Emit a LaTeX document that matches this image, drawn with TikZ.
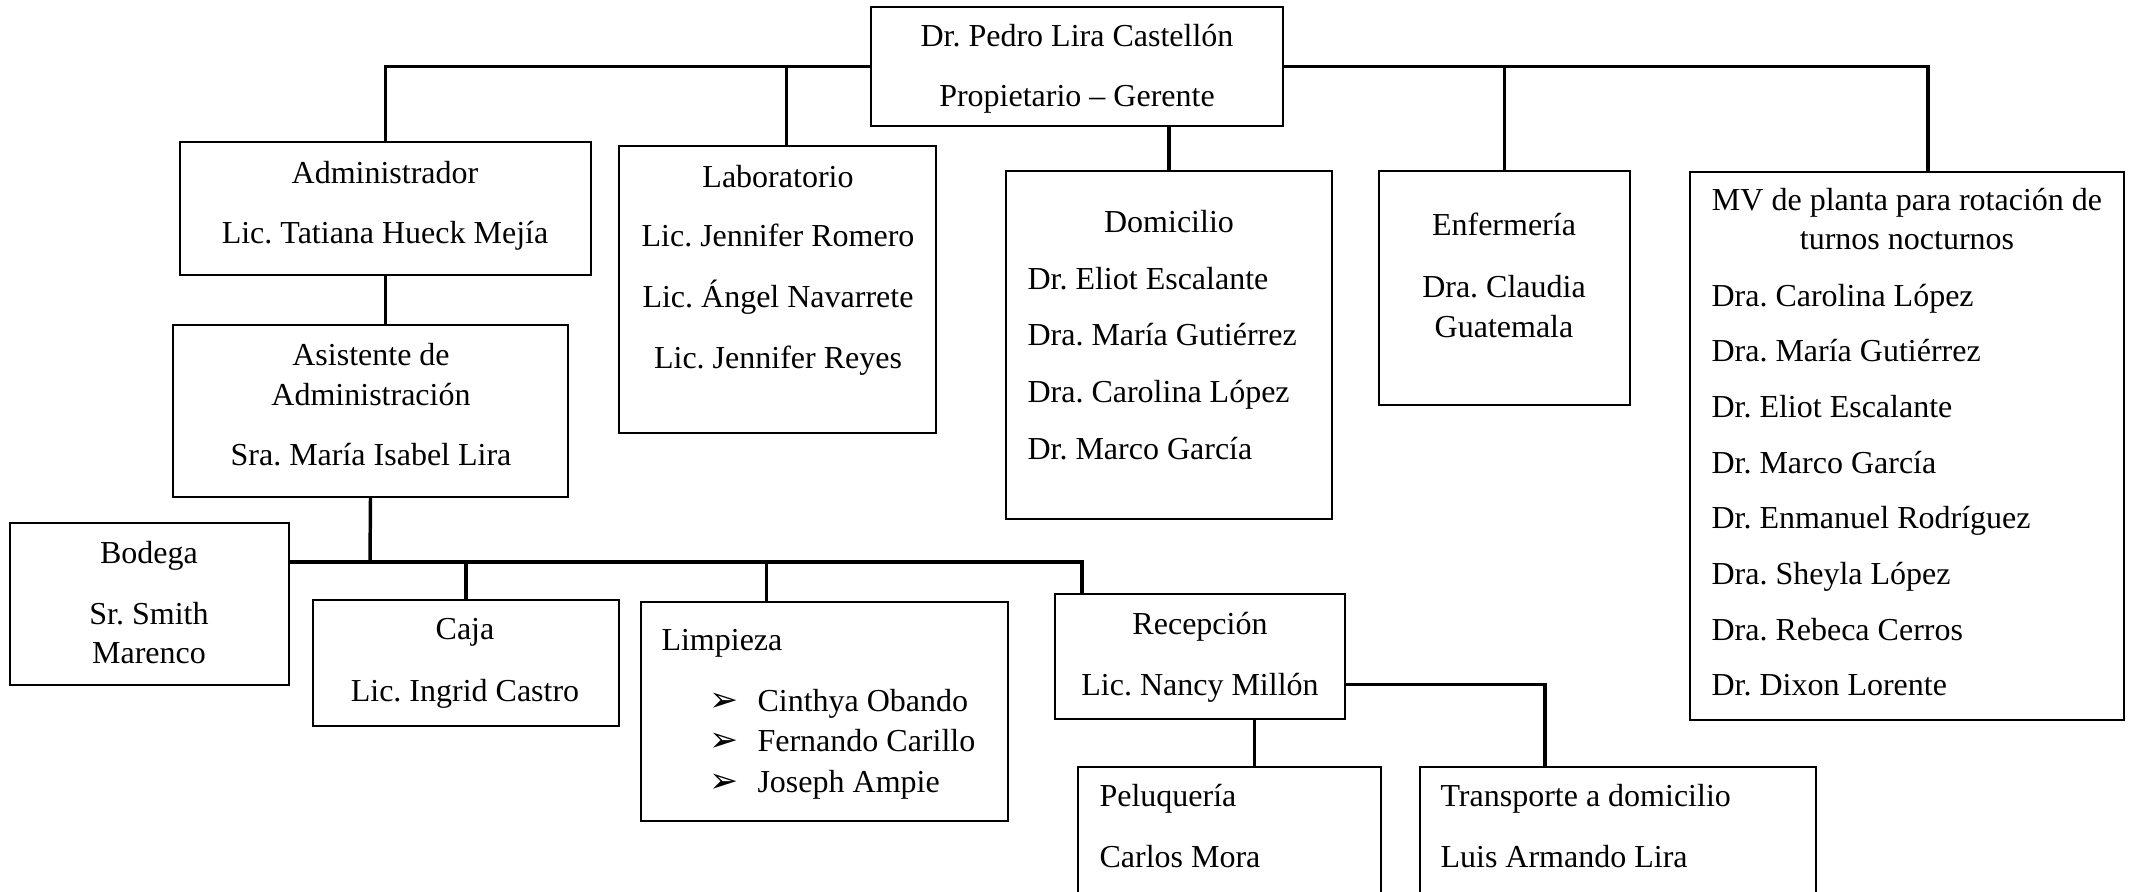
\documentclass[tikz,border=0pt]{standalone}
\usepackage{fontspec}
\setmainfont{Liberation Serif}
\newfontfamily\symfont{DejaVu Sans}
\usetikzlibrary{fit,calc}
\frenchspacing

\begin{document}
\begin{tikzpicture}[x=0.375pt,y=-0.375pt,
orgbox/.style={draw,line width=0.8pt,inner sep=0pt},
orgline/.style={line width=1.3pt},
txt/.style={inner sep=0pt,anchor=base,font=\fontsize{12}{14.8}\selectfont},
txtl/.style={txt,anchor=base west}]

\useasboundingbox (0,0) rectangle (2134,892);
\clip (0,0) rectangle (2134,892);

% boxes
\node[orgbox,fit={(871,7) (1283,126)}] (pedro) {};
\node[orgbox,fit={(180,142) (591,275)}] (adm) {};
\node[orgbox,fit={(619,146) (936,433)}] (lab) {};
\node[orgbox,fit={(1006,171) (1332,519)}] (dom) {};
\node[orgbox,fit={(1379,171) (1630,405)}] (enf) {};
\node[orgbox,fit={(1690,172) (2124,720)}] (mv) {};
\node[orgbox,fit={(173,325) (568,497)}] (asi) {};
\node[orgbox,fit={(10,523) (289,685)}] (bod) {};
\node[orgbox,fit={(313,600) (619,726)}] (caja) {};
\node[orgbox,fit={(641,602) (1008,821)}] (limp) {};
\node[orgbox,fit={(1055,594) (1345,719)}] (rec) {};
\node[orgbox,fit={(1078,767) (1381,930)}] (pel) {};
\node[orgbox,fit={(1420,767) (1816,930)}] (trans) {};

% texts
\node[txt] (pedro1) at (1077,47) {Dr. Pedro Lira Castellón};
\node[txt] (pedro2) at (1077,106) {Propietario – Gerente};

\node[txt] (adm1) at (385,183) {Administrador};
\node[txt] (adm2) at (385,243) {Lic. Tatiana Hueck Mejía};

\node[txt] (lab0) at (778,187) {Laboratorio};
\foreach \who [count=\i] in {Lic. Jennifer Romero, Lic. Ángel Navarrete, Lic. Jennifer Reyes}
  \node[txt] (lab\i) at (778,{246.7+60.8*(\i-1)}) {\who};

\node[txt] (dom0) at (1169,232) {Domicilio};
\foreach \who [count=\i] in {Dr. Eliot Escalante, Dra. María Gutiérrez, Dra. Carolina López, Dr. Marco García}
  \node[txtl] (dom\i) at (1027,{289+56.8*(\i-1)}) {\who};

\node[txt] (enf1) at (1504,235) {Enfermería};
\node[txt] (enf2) at (1504,297) {Dra. Claudia};
\node[txt] (enf3) at (1504,337) {Guatemala};

\node[txt] (mvA) at (1907,210) {MV de planta para rotación de};
\node[txt] (mvB) at (1907,249.5) {turnos nocturnos};
\foreach \who [count=\i] in {Dra. Carolina López, Dra. María Gutiérrez, Dr. Eliot Escalante, Dr. Marco García,
  Dr. Enmanuel Rodríguez, Dra. Sheyla López, Dra. Rebeca Cerros, Dr. Dixon Lorente}
  \node[txtl] (mv\i) at (1711,{306+55.7*(\i-1)}) {\who};

\node[txt] (asi1) at (371,365) {Asistente de};
\node[txt] (asi2) at (371,405) {Administración};
\node[txt] (asi3) at (371,465) {Sra. María Isabel Lira};

\node[txt] (bod1) at (149,563) {Bodega};
\node[txt] (bod2) at (149,624) {Sr. Smith};
\node[txt] (bod3) at (149,663.5) {Marenco};

\node[txt] (caja1) at (465,639.5) {Caja};
\node[txt] (caja2) at (465,701) {Lic. Ingrid Castro};

\node[txtl] (limp0) at (661,650) {Limpieza};
\foreach \who [count=\i] in {Cinthya Obando, Fernando Carillo, Joseph Ampie}{
  \node[txtl,font=\symfont\fontsize{13}{15}\selectfont] (arr\i) at (709,{711+40.5*(\i-1)}) {➢};
  \node[txtl] (limp\i) at (757,{711+40.5*(\i-1)}) {\who};
}

\node[txt] (rec1) at (1200,634.5) {Recepción};
\node[txt] (rec2) at (1200,695.5) {Lic. Nancy Millón};

\node[txtl] (pel1) at (1099,806) {Peluquería};
\node[txtl] (pel2) at (1099,867) {Carlos Mora};

\node[txtl] (trans1) at (1440,806) {Transporte a domicilio};
\node[txtl] (trans2) at (1440,867) {Luis Armando Lira};

% connectors
\draw[orgline] (pedro.west) -| (adm.north);
\draw[orgline] ($(lab.north)+(9,0)$) coordinate (labtap) -- (labtap |- pedro.west);
\draw[orgline] (pedro.east) -| ($(mv.north)+(21,0)$);
\draw[orgline] (enf.north) -- (enf.north |- pedro.east);
\draw[orgline] (dom.north) -- (dom.north |- pedro.south);
\draw[orgline] (adm.south) -- (adm.south |- asi.north);
\coordinate (bus) at (370,562);
\draw[orgline] (asi.south) -- (bus);
\draw[orgline] (bus -| bod.east) -| ($(rec.north)+(-118,0)$);
\draw[orgline] (caja.north) -- (caja.north |- bus);
\draw[orgline] ($(limp.north)+(-58,0)$) coordinate (limptap) -- (limptap |- bus);
\draw[orgline] ($(rec.east)+(0,28)$) -| ($(trans.north)+(-73,0)$);
\draw[orgline] ($(pel.north)+(25,0)$) coordinate (peltap) -- (peltap |- rec.south);

\end{tikzpicture}
\end{document}
